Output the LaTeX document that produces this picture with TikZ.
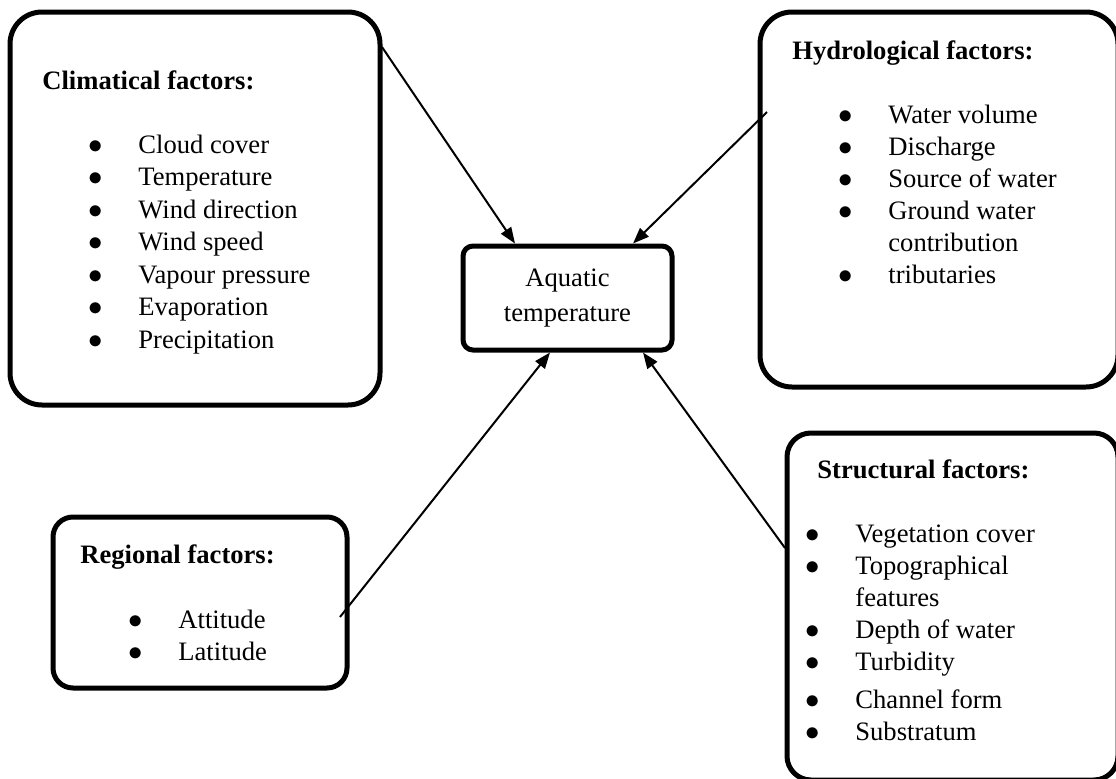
\documentclass[tikz,border=0pt]{standalone}
\usepackage{fontspec}
\setmainfont{Liberation Serif}
\usetikzlibrary{arrows.meta}

\newcommand{\blt}{\makebox[21.5pt][l]{\makebox[0pt]{$\bullet$}}}
\newcommand{\nob}{\hspace{21.5pt}}

\begin{document}
\begin{tikzpicture}[x=0.5pt, y=-0.5pt,
    fbox/.style={draw, line width=2.5pt, rounded corners=#1, inner sep=0pt},
    head/.style={anchor=base west, inner sep=0pt, font=\fontsize{13.3}{16}\selectfont\bfseries},
    items/.style={anchor=base west, inner sep=0pt, font=\fontsize{13.3}{#1}\selectfont},
    arr/.style={-{Triangle[length=8pt,width=6pt]}, line width=1pt}]
    \clip (0,0) rectangle (1116,778);

    % outer boxes
    \node at (195, 208.5) [fbox=16pt, minimum width=185pt, minimum height=196.5pt] (clim) {};
    \node at (939, 199.5) [fbox=16pt, minimum width=179pt, minimum height=187.5pt] (hydro) {};
    \node at (200, 602.5) [fbox=10pt, minimum width=147pt, minimum height=85.5pt] (reg) {};
    \node at (952.5, 606.5) [fbox=12pt, minimum width=165.5pt, minimum height=173.5pt] (struc) {};

    % centre
    \node at (567.5, 298) [fbox=5pt, minimum width=104.5pt, minimum height=52pt, align=center,
        font=\fontsize{13.3}{17.5}\selectfont] (aqua) {Aquatic\\temperature};

    \node at (42, 89) [head] (climhead) {Climatical factors:};
    \node at (95, 153) [items=16.25pt] (climlist) {\begin{tabular}[t]{@{}l@{}}
        \blt Cloud cover\\ \blt Temperature\\ \blt Wind direction\\ \blt Wind speed\\
        \blt Vapour pressure\\ \blt Evaporation\\ \blt Precipitation\end{tabular}};

    \node at (792, 59) [head] (hydrohead) {Hydrological factors:};
    \node at (845, 123) [items=16pt] (hydrolist) {\begin{tabular}[t]{@{}l@{}}
        \blt Water volume\\ \blt Discharge\\ \blt Source of water\\ \blt Ground water\\
        \nob contribution\\ \blt tributaries\end{tabular}};

    \node at (80, 563) [head] (reghead) {Regional factors:};
    \node at (135, 628) [items=16pt] (reglist) {\begin{tabular}[t]{@{}l@{}}
        \blt Attitude\\ \blt Latitude\end{tabular}};

    \node at (817, 478) [head] (struchead) {Structural factors:};
    \node at (812, 542) [items=16pt] (struclist) {\begin{tabular}[t]{@{}l@{}}
        \blt Vegetation cover\\ \blt Topographical\\ \nob features\\ \blt Depth of water\\
        \blt Turbidity\\[3pt] \blt Channel form\\ \blt Substratum\end{tabular}};

    \coordinate (climout) at (382, 47);
    \coordinate (hydroout) at (767, 112);
    \coordinate (regout) at (340, 617);
    \coordinate (strucout) at (785, 548);

    \draw[arr] (climout) -- ([xshift=-26.25pt]aqua.north);
    \draw[arr] (hydroout) -- ([xshift=32.75pt]aqua.north);
    \draw[arr] (regout) -- ([xshift=-8.75pt]aqua.south);
    \draw[arr] (strucout) -- ([xshift=37.75pt]aqua.south);
\end{tikzpicture}
\end{document}
